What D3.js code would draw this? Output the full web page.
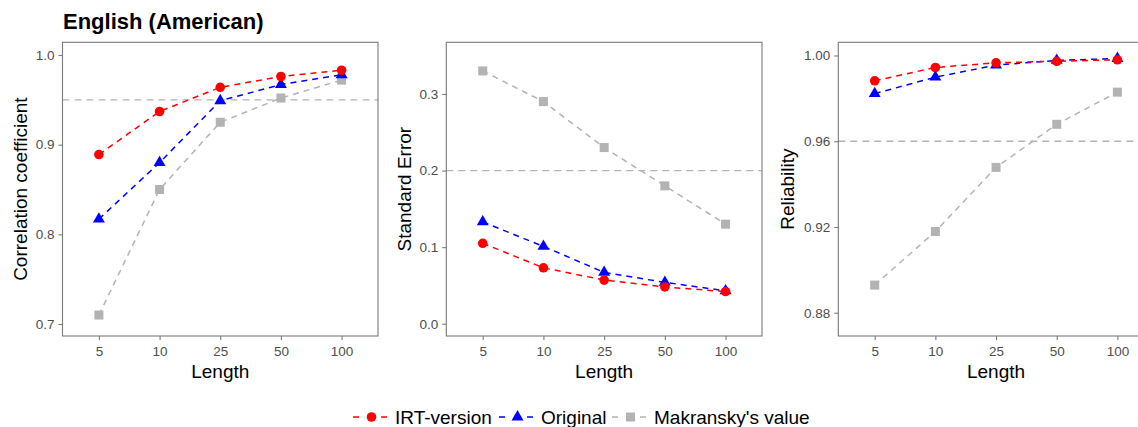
<!DOCTYPE html>
<html>
<head>
<meta charset="utf-8">
<script src="https://cdn.jsdelivr.net/npm/d3@7"></script>
<style>
  html, body { margin: 0; padding: 0; background: #fff; }
  svg { display: block; font-family: "Liberation Sans", Arial, Helvetica, sans-serif; }
</style>
</head>
<body>
<svg id="chart" width="1138" height="427"></svg>
<script>
// ---------------- DATA ----------------
const lengths = ["5", "10", "25", "50", "100"];
const seriesNames = ["IRT-version", "Original", "Makransky's value"];

const corrIRT  = [0.889, 0.937, 0.964, 0.976, 0.983];
const corrOrig = [0.817, 0.880, 0.949, 0.967, 0.978];
const corrMak  = [0.710, 0.850, 0.925, 0.952, 0.972];

const seIRT  = [0.105, 0.073, 0.057, 0.048, 0.042];
const seOrig = [0.133, 0.101, 0.067, 0.054, 0.043];
const seMak  = [0.330, 0.290, 0.230, 0.180, 0.130];

const relIRT  = [0.9882, 0.9944, 0.9966, 0.9973, 0.9980];
const relOrig = [0.9822, 0.9899, 0.9955, 0.9977, 0.9986];
const relMak  = [0.8929, 0.9179, 0.9478, 0.9679, 0.9829];

const corrTicks = [0.7, 0.8, 0.9, 1.0];
const seTicks   = [0.0, 0.1, 0.2, 0.3];
const relTicks  = [0.88, 0.92, 0.96, 1.00];

const refLines = [0.95, 0.20, 0.96];
const yTitles  = ["Correlation coefficient", "Standard Error", "Reliability"];
const xTitle   = "Length";
const chartTitle = "English (American)";

// ---------------- STYLE / LAYOUT ----------------
const colors = ["#FF0000", "#0000FF", "#B3B3B3"];
const shapes = ["circle", "triangle", "square"];

const panels = [
  { x0: 62.5, x1: 378,  domain: [0.68662, 1.01416], ticks: corrTicks, fmt: d3.format(".1f"),
    series: [corrIRT, corrOrig, corrMak], ref: refLines[0], ytitle: yTitles[0], ytx: 26.8 },
  { x0: 446.3, x1: 762, domain: [-0.016, 0.3674], ticks: seTicks, fmt: d3.format(".1f"),
    series: [seIRT, seOrig, seMak], ref: refLines[1], ytitle: yTitles[1], ytx: 410.8 },
  { x0: 838.3, x1: 1153.8, domain: [0.86915, 1.00615], ticks: relTicks, fmt: d3.format(".2f"),
    series: [relIRT, relOrig, relMak], ref: refLines[2], ytitle: yTitles[2], ytx: 793.8 }
];
const panelTop = 42.3, panelBottom = 336;

const svg = d3.select("#chart");

function drawMarker(g, shape, x, y, color) {
  if (shape === "circle") {
    g.append("circle").attr("cx", x).attr("cy", y).attr("r", 4.8).attr("fill", color);
  } else if (shape === "triangle") {
    const r = 6.9;
    const pts = [[x, y - r], [x + r * Math.sqrt(3) / 2, y + r / 2], [x - r * Math.sqrt(3) / 2, y + r / 2]];
    g.append("polygon").attr("points", pts.map(p => p.join(",")).join(" ")).attr("fill", color);
  } else {
    const s = 9;
    g.append("rect").attr("x", x - s / 2).attr("y", y - s / 2).attr("width", s).attr("height", s).attr("fill", color);
  }
}

panels.forEach((p, pi) => {
  const x = d3.scalePoint().domain(lengths).range([p.x0, p.x1]).padding(0.6);
  const y = d3.scaleLinear().domain(p.domain).range([panelBottom, panelTop]);
  const g = svg.append("g");

  const clipId = "clip" + pi;
  svg.append("clipPath").attr("id", clipId).append("rect")
    .attr("x", p.x0).attr("y", panelTop).attr("width", p.x1 - p.x0).attr("height", panelBottom - panelTop);

  const inner = g.append("g").attr("clip-path", `url(#${clipId})`);

  inner.append("line")
    .attr("x1", p.x0).attr("x2", p.x1)
    .attr("y1", y(p.ref)).attr("y2", y(p.ref))
    .attr("stroke", "#B3B3B3").attr("stroke-width", 1.3)
    .attr("stroke-dasharray", "7,5");

  [2, 1, 0].forEach(si => {
    const line = d3.line().x((d, i) => x(lengths[i])).y(d => y(d));
    inner.append("path")
      .attr("d", line(p.series[si]))
      .attr("fill", "none")
      .attr("stroke", colors[si])
      .attr("stroke-width", 1.5)
      .attr("stroke-dasharray", "6,5");
  });
  [2, 1, 0].forEach(si => {
    p.series[si].forEach((v, i) => drawMarker(inner, shapes[si], x(lengths[i]), y(v), colors[si]));
  });

  g.append("rect")
    .attr("x", p.x0).attr("y", panelTop).attr("width", p.x1 - p.x0).attr("height", panelBottom - panelTop)
    .attr("fill", "none").attr("stroke", "#7A7A7A").attr("stroke-width", 1.1);

  const yAxis = d3.axisLeft(y).tickValues(p.ticks).tickFormat(p.fmt).tickSize(4).tickPadding(4);
  const ya = g.append("g").attr("transform", `translate(${p.x0},0)`).call(yAxis);
  ya.select(".domain").remove();
  ya.selectAll(".tick line").attr("stroke", "#7A7A7A").attr("stroke-width", 1.1);
  ya.selectAll(".tick text").attr("fill", "#4D4D4D").style("font-size", "13.5px")
    .style("font-family", "'Liberation Sans', Arial, sans-serif");

  const xAxis = d3.axisBottom(x).tickSize(4).tickPadding(6);
  const xa = g.append("g").attr("transform", `translate(0,${panelBottom})`).call(xAxis);
  xa.select(".domain").remove();
  xa.selectAll(".tick line").attr("stroke", "#7A7A7A").attr("stroke-width", 1.1);
  xa.selectAll(".tick text").attr("fill", "#4D4D4D").style("font-size", "13.5px")
    .style("font-family", "'Liberation Sans', Arial, sans-serif");

  g.append("text")
    .attr("x", (p.x0 + p.x1) / 2).attr("y", 378)
    .attr("text-anchor", "middle").attr("fill", "#000")
    .style("font-size", "19px").text(xTitle);

  g.append("text")
    .attr("transform", `translate(${p.ytx},${(panelTop + panelBottom) / 2}) rotate(-90)`)
    .attr("text-anchor", "middle").attr("fill", "#000")
    .style("font-size", "19px").text(p.ytitle);
});

svg.append("text")
  .attr("x", 63).attr("y", 29)
  .attr("fill", "#000").style("font-size", "22px").style("font-weight", "bold")
  .text(chartTitle);

const legendKeyX = [353, 499, 612];
const legendY = 417;
const lg = svg.append("g");
seriesNames.forEach((name, si) => {
  const kx = legendKeyX[si];
  lg.append("line")
    .attr("x1", kx).attr("x2", kx + 34)
    .attr("y1", legendY).attr("y2", legendY)
    .attr("stroke", colors[si]).attr("stroke-width", 1.5)
    .attr("stroke-dasharray", "6,22,6");
  drawMarker(lg, shapes[si], kx + 18.5, legendY, colors[si]);
  lg.append("text")
    .attr("x", kx + 42).attr("y", legendY)
    .attr("dy", "0.35em")
    .attr("fill", "#000").style("font-size", "19px")
    .text(name);
});
</script>
</body>
</html>
